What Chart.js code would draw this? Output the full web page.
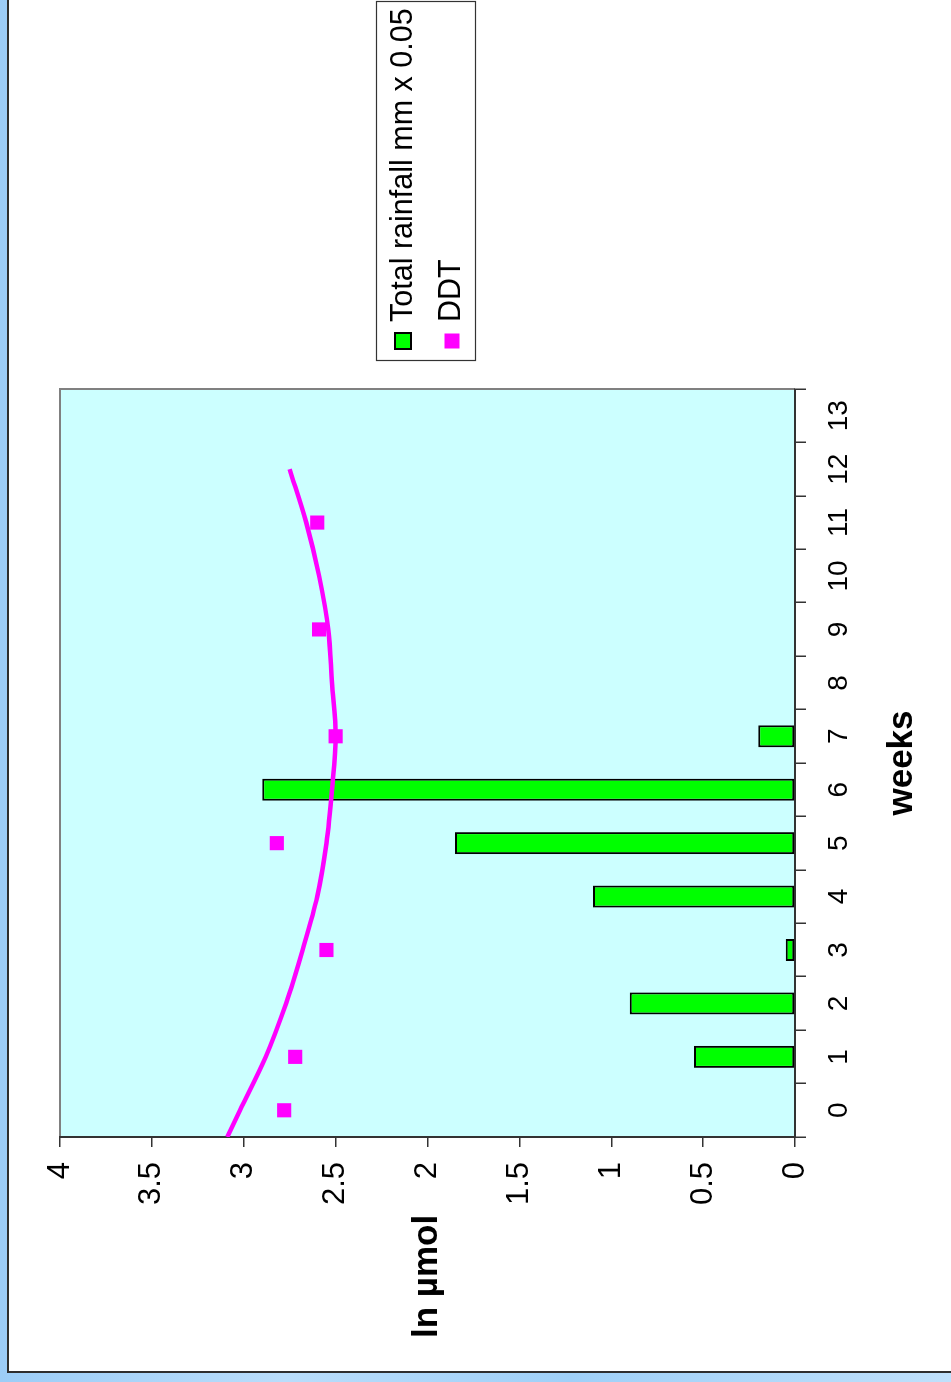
<!DOCTYPE html>
<html>
<head>
<meta charset="utf-8">
<title>DDT and rainfall by week</title>
<script src="https://cdn.jsdelivr.net/npm/chart.js@4.4.1/dist/chart.umd.min.js"></script>
<style>
  html, body { margin: 0; padding: 0; }
  body {
    width: 951px; height: 1382px; overflow: hidden; position: relative;
    background: linear-gradient(90deg, #9ccdf7 0%, #b9ddfb 30%, #9fd0f8 60%, #bfe0fb 100%);
  }
  #panel {
    position: absolute; left: 7px; top: 0; width: 960px; height: 1373px;
    box-sizing: border-box; background: #fff;
    border-left: 2px solid #2e2e2e; border-bottom: 2px solid #2e2e2e;
  }
  #wrap {
    position: absolute; left: 0; top: 0; width: 1382px; height: 951px;
    transform-origin: 0 0; transform: translate(0, 1382px) rotate(-90deg);
  }
  canvas { display: block; }
</style>
</head>
<body>
<div id="panel"></div>
<div id="wrap"><canvas id="c" width="1382" height="951"></canvas></div>
<script>
// Week categories on the horizontal axis
const weeks = ['0','1','2','3','4','5','6','7','8','9','10','11','12','13'];

// Weekly total rainfall (mm, scaled by 0.05)
const rainfall = [null, 0.55, 0.9, 0.05, 1.1, 1.85, 2.9, 0.2, null, null, null, null, null, null];

// Measured DDT (ln µmol)
const ddtWeeks  = [0, 1, 3, 5, 7, 9, 11];
const ddtValues = [2.78, 2.72, 2.55, 2.82, 2.5, 2.59, 2.6];

// Fitted DDT trend curve
const trendWeeks  = [-0.5, 0, 1, 2, 3, 4, 5, 6, 7, 8, 9, 10, 11, 12];
const trendValues = [3.09, 3.02, 2.88, 2.77, 2.68, 2.60, 2.55, 2.52, 2.50, 2.52, 2.54, 2.59, 2.66, 2.75];

// Value-axis ticks
const valueMin = 0, valueMax = 4, valueStep = 0.5;

const FONT = '"Liberation Sans", Arial, Helvetica, sans-serif';
const legendItems = [
  { text: 'Total rainfall mm x 0.05', fill: '#00FF00', stroke: '#000000', size: 18 },
  { text: 'DDT', fill: '#FF00FF', stroke: null, size: 15 }
];

const frame = {
  id: 'frame',
  beforeDraw(chart) {
    const { ctx, chartArea: a } = chart;
    ctx.save();
    ctx.fillStyle = '#CCFFFF';
    ctx.fillRect(a.left, a.top, a.right - a.left, a.bottom - a.top);
    ctx.strokeStyle = '#808080';
    ctx.lineWidth = 2;
    ctx.beginPath();
    ctx.moveTo(a.left, a.top);
    ctx.lineTo(a.right, a.top);
    ctx.lineTo(a.right, a.bottom);
    ctx.stroke();
    ctx.restore();
  },
  afterDraw(chart) {
    const { ctx, chartArea: a } = chart;
    ctx.save();
    ctx.fillStyle = '#000';
    ctx.textBaseline = 'alphabetic';
    // axis titles
    ctx.font = 'bold 35px ' + FONT;
    ctx.textAlign = 'left';
    ctx.fillText('ln µmol', 44, 437);
    ctx.textAlign = 'center';
    ctx.fillText('weeks', (a.left + a.right) / 2, 912);
    // legend
    const lx = 1021, ly = 376, lw = 359, lh = 99;
    ctx.fillStyle = '#fff';
    ctx.fillRect(lx, ly, lw, lh);
    ctx.strokeStyle = '#333';
    ctx.lineWidth = 1.2;
    ctx.strokeRect(lx + 0.5, ly + 0.5, lw, lh);
    ctx.font = '30.5px ' + FONT;
    ctx.textAlign = 'left';
    const rows = [{ cy: 403, base: 412 }, { cy: 452, base: 460 }];
    legendItems.forEach((it, i) => {
      const r = rows[i], cx = 1041, s = it.size;
      ctx.fillStyle = it.fill;
      ctx.fillRect(cx - s / 2, r.cy - s / 2, s, s);
      if (it.stroke) {
        ctx.strokeStyle = it.stroke;
        ctx.lineWidth = 2;
        ctx.strokeRect(cx - s / 2 + 1, r.cy - s / 2 + 1, s - 2, s - 2);
      }
      ctx.fillStyle = '#000';
      ctx.fillText(it.text, 1060, r.base);
    });
    ctx.restore();
  }
};

new Chart(document.getElementById('c'), {
  data: {
    labels: weeks,
    datasets: [
      {
        type: 'bar',
        label: legendItems[0].text,
        data: rainfall,
        xAxisID: 'x',
        grouped: false,
        backgroundColor: '#00FF00',
        borderColor: '#000000',
        borderWidth: 2,
        borderSkipped: false,
        barPercentage: 1,
        categoryPercentage: 0.412,
        order: 3
      },
      {
        type: 'line',
        label: 'DDT trend',
        data: trendWeeks.map((w, i) => ({ x: w, y: trendValues[i] })),
        xAxisID: 'xl',
        borderColor: '#FF00FF',
        borderWidth: 4.5,
        pointRadius: 0,
        fill: false,
        cubicInterpolationMode: 'monotone',
        order: 2
      },
      {
        type: 'line',
        label: legendItems[1].text,
        data: ddtWeeks.map((w, i) => ({ x: w, y: ddtValues[i] })),
        xAxisID: 'xl',
        showLine: false,
        pointStyle: 'rect',
        pointRadius: 10,
        pointBorderWidth: 0,
        pointBackgroundColor: '#FF00FF',
        pointBorderColor: '#FF00FF',
        order: 1
      }
    ]
  },
  options: {
    responsive: false,
    animation: false,
    devicePixelRatio: 1,
    layout: { padding: { left: 0, top: 60, right: 389, bottom: 0 } },
    plugins: { legend: { display: false }, tooltip: { enabled: false } },
    scales: {
      x: {
        type: 'category',
        position: 'bottom',
        offset: true,
        grid: { offset: true, drawOnChartArea: false, drawTicks: true, tickLength: 11, color: '#333', lineWidth: 1.5 },
        border: { display: true, color: '#333', width: 2 },
        ticks: { font: { family: FONT, size: 28 }, color: '#000', padding: 16, maxRotation: 0, autoSkip: false },
        afterFit(scale) { scale.height = 156; }
      },
      xl: {
        type: 'linear',
        display: false,
        min: -0.5,
        max: 13.5
      },
      y: {
        type: 'linear',
        position: 'left',
        min: valueMin,
        max: valueMax,
        ticks: {
          stepSize: valueStep,
          font: { family: FONT, size: 31 },
          color: '#000',
          padding: 15,
          callback: v => String(v)
        },
        grid: { drawOnChartArea: false, drawTicks: true, tickLength: 10, color: '#333', lineWidth: 1.5 },
        border: { display: true, color: '#333', width: 2 },
        afterFit(scale) { scale.width = 245; }
      }
    }
  },
  plugins: [frame]
});
</script>
</body>
</html>
